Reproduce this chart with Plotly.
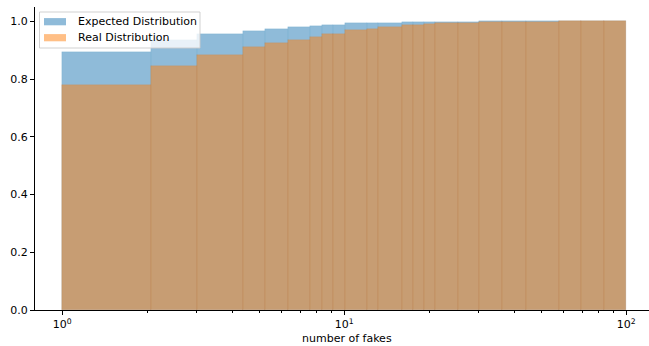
import numpy as np
import plotly.graph_objects as go

# bin edges (number of fakes, log scale)
edges = [1.0, 2.06, 3.01, 4.36, 5.23, 6.33, 7.56, 8.32, 9.14, 10.06, 12.08, 13.22,
         15.98, 17.48, 19.22, 20.93, 25.24, 30.04, 36.33, 43.98, 57.87, 69.09, 83.34, 100.0]

expected = [0.893, 0.934, 0.955, 0.967, 0.974, 0.981, 0.985, 0.988, 0.989, 0.993, 0.995,
            0.996, 0.997, 0.998, 0.998, 0.999, 0.999, 1.0, 1.0, 1.0, 1.0, 1.0, 1.0]

real = [0.781, 0.845, 0.885, 0.910, 0.926, 0.935, 0.947, 0.956, 0.957, 0.972, 0.975,
        0.981, 0.986, 0.989, 0.990, 0.993, 0.995, 0.997, 0.998, 0.999, 1.0, 1.0, 1.0]

series_names = ["Expected Distribution", "Real Distribution"]
yticks = [0.0, 0.2, 0.4, 0.6, 0.8, 1.0]
xticks = [1, 10, 100]
xticktext = ["10<sup>0</sup>", "10<sup>1</sup>", "10<sup>2</sup>"]
xminor = [2, 3, 4, 5, 6, 7, 8, 9, 20, 30, 40, 50, 60, 70, 80, 90]

e = np.array(edges)
centers = (e[:-1] + e[1:]) / 2
widths = e[1:] - e[:-1]

BLUE = "rgba(31,119,180,0.5)"
ORANGE = "rgba(255,127,14,0.5)"
FONT = "DejaVu Sans"

fig = go.Figure()
fig.add_trace(go.Bar(x=centers, y=expected, width=widths, name=series_names[0],
                     marker=dict(color=BLUE, line=dict(width=0.5, color="rgba(31,119,180,0.2)")),
                     showlegend=False))
fig.add_trace(go.Bar(x=centers, y=real, width=widths, name=series_names[1],
                     marker=dict(color=ORANGE, line=dict(width=0.5, color="rgba(220,110,20,0.25)")),
                     showlegend=False))

W, H = 649, 346
L, R, T, B = 35, 0, 7, 36
fig.update_layout(
    width=W, height=H, barmode="overlay", bargap=0,
    margin=dict(l=L, r=R, t=T, b=B, pad=0, autoexpand=False),
    paper_bgcolor="white", plot_bgcolor="white",
    font=dict(family=FONT, size=11, color="black"),
    showlegend=False,
)
fig.update_xaxes(type="log", range=[-0.0968, 2.0805], showgrid=False, zeroline=False,
                 showline=True, linecolor="black", linewidth=1,
                 ticks="outside", ticklen=4, tickwidth=1, tickcolor="black",
                 tickvals=xticks, ticktext=xticktext,
                 minor=dict(tickvals=xminor, ticks="outside", ticklen=2, tickwidth=0.8, tickcolor="black"),
                 tickfont=dict(family=FONT, size=11, color="black"), automargin=False)
fig.update_yaxes(range=[0, 1.05], showgrid=False, zeroline=False,
                 showline=True, linecolor="black", linewidth=1,
                 ticks="outside", ticklen=4, tickwidth=1, tickcolor="black",
                 tickvals=yticks, tickformat=".1f",
                 tickfont=dict(family=FONT, size=11, color="black"), automargin=False)

def px(xp):
    return (xp - L) / (W - L - R)

def py(yp):
    return ((H - B) - yp) / (H - T - B)

# x-axis title
fig.add_annotation(text="number of fakes", xref="paper", yref="paper",
                   x=px(347), y=py(338), showarrow=False, yanchor="middle", xanchor="center",
                   font=dict(family=FONT, size=11, color="black"))

# legend (matplotlib style)
fig.add_shape(type="rect", xref="paper", yref="paper", layer="above",
              x0=px(39.5), x1=px(200), y0=py(48), y1=py(12),
              fillcolor="rgba(255,255,255,0.8)", line=dict(color="rgba(204,204,204,0.9)", width=1))
for i, (name, col) in enumerate(zip(series_names, [BLUE, ORANGE])):
    yc = 21.7 + 16 * i
    fig.add_shape(type="rect", xref="paper", yref="paper", layer="above",
                  x0=px(44), x1=px(66), y0=py(yc + 3.6), y1=py(yc - 3.6),
                  fillcolor=col, line=dict(width=0))
    fig.add_annotation(text=name, xref="paper", yref="paper", x=px(75.5), y=py(yc),
                       xanchor="left", yanchor="middle", showarrow=False,
                       font=dict(family=FONT, size=11, color="black"))

fig.write_html("out.html", config={"displayModeBar": False},
               post_script="document.body.style.margin='0';document.body.style.padding='0';")
